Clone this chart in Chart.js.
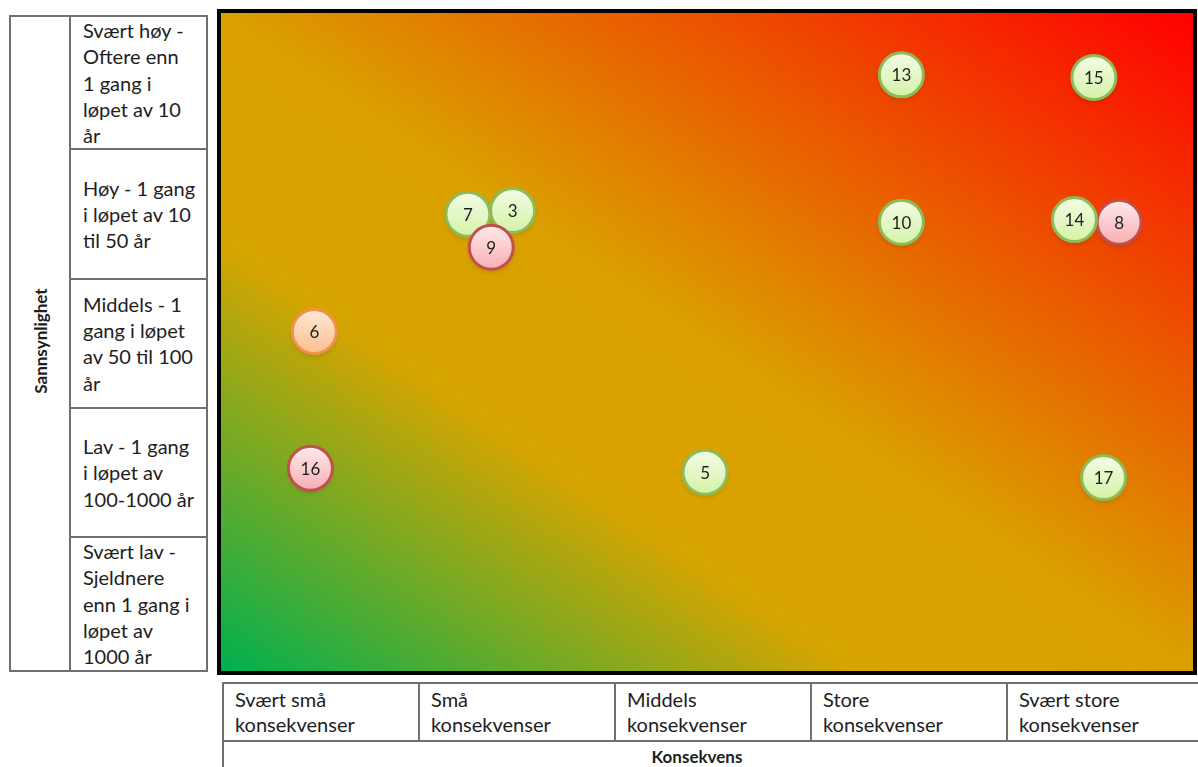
<!DOCTYPE html>
<html lang="no">
<head>
<meta charset="utf-8">
<title>Risikomatrise</title>
<script src="https://cdn.jsdelivr.net/npm/chart.js@4.4.1/dist/chart.umd.min.js"></script>
<style>
  html, body { margin: 0; padding: 0; background: #fff; }
  body { width: 1198px; height: 767px; overflow: hidden; position: relative;
         font-family: Lato, "Open Sans", sans-serif; color: #1e1e1e; }
  #plot { position: absolute; left: 217px; top: 9px; }
  table { border-collapse: collapse; position: absolute; table-layout: fixed; }
  td { border: 2px solid #707070; padding: 0; }
  #likTable { left: 9px; top: 15px; }
  #likTable td.lab { font-size: 20px; line-height: 26.3px; padding-left: 12px; vertical-align: middle; white-space: nowrap; }
  #conTable { left: 222px; top: 682px; width: 1080px; }
  #conTable td.lab { font-size: 20px; line-height: 25px; padding: 3px 0 0 11px; vertical-align: top; white-space: nowrap; height: 53px; }
  #conTable td.foot { height: 60px; }
  .axisTitle { position: absolute; font-weight: bold; font-size: 17px; white-space: nowrap; }
  #yTitle { left: 40px; top: 341px; transform: translate(-50%, -50%) rotate(-90deg); }
  #xTitle { left: 697px; top: 756px; transform: translate(-50%, -50%); }
</style>
</head>
<body>
<table id="likTable"></table>
<table id="conTable"></table>
<div class="axisTitle" id="yTitle"></div>
<div class="axisTitle" id="xTitle"></div>
<canvas id="plot" width="980" height="666"></canvas>
<script>
// Axis titles
const yTitle = 'Sannsynlighet';
const xTitle = 'Konsekvens';

// Likelihood classes, from 1 (lowest) to 5 (highest), one line per entry
const likelihoodLabels = [
  ['Svært lav -', 'Sjeldnere', 'enn 1 gang i', 'løpet av', '1000 år'],
  ['Lav - 1 gang', 'i løpet av', '100-1000 år'],
  ['Middels - 1', 'gang i løpet', 'av 50 til 100', 'år'],
  ['Høy - 1 gang', 'i løpet av 10', 'til 50 år'],
  ['Svært høy -', 'Oftere enn', '1 gang i', 'løpet av 10', 'år']
];

// Consequence classes, from 1 (smallest) to 5 (largest)
const consequenceLabels = [
  ['Svært små', 'konsekvenser'],
  ['Små', 'konsekvenser'],
  ['Middels', 'konsekvenser'],
  ['Store', 'konsekvenser'],
  ['Svært store', 'konsekvenser']
];

// Risk events: id, consequence class, likelihood class, assessment
const eventIds    = [3, 7, 9, 13, 15, 10, 8, 14, 6, 16, 5, 17];
const consequence = [2.00, 1.77, 1.89, 4.00, 4.99, 4.00, 5.12, 4.89, 0.98, 0.96, 2.99, 5.04];
const likelihood  = [4.00, 3.97, 3.72, 5.03, 5.01, 3.91, 3.91, 3.93, 3.08, 2.04, 2.01, 1.97];
const assessment  = ['green', 'green', 'red', 'green', 'green', 'green', 'red', 'green', 'orange', 'red', 'green', 'green'];

// ---- label tables ----
const likTable = document.getElementById('likTable');
for (let r = likelihoodLabels.length - 1; r >= 0; r--) {
  const tr = document.createElement('tr');
  if (r === likelihoodLabels.length - 1) {
    const side = document.createElement('td');
    side.rowSpan = likelihoodLabels.length;
    side.style.width = '58px';
    tr.appendChild(side);
  }
  const td = document.createElement('td');
  td.className = 'lab';
  td.style.width = '123px';
  td.style.height = '127.2px';
  td.innerHTML = likelihoodLabels[r].join('<br>');
  tr.appendChild(td);
  likTable.appendChild(tr);
}

// consequence table: columns line up with the plot's five classes,
// the last one runs past the page edge
const conTable = document.getElementById('conTable');
const cols = document.createElement('colgroup');
consequenceLabels.forEach((_, i) => {
  const col = document.createElement('col');
  col.style.width = (i === consequenceLabels.length - 1 ? 296 : 196) + 'px';
  cols.appendChild(col);
});
conTable.appendChild(cols);
const headRow = document.createElement('tr');
consequenceLabels.forEach(lines => {
  const td = document.createElement('td');
  td.className = 'lab';
  td.innerHTML = lines.join('<br>');
  headRow.appendChild(td);
});
conTable.appendChild(headRow);
const footRow = document.createElement('tr');
const foot = document.createElement('td');
foot.className = 'foot';
foot.colSpan = consequenceLabels.length;
footRow.appendChild(foot);
conTable.appendChild(footRow);

document.getElementById('yTitle').textContent = yTitle;
document.getElementById('xTitle').textContent = xTitle;

// ---- bubble styling ----
const palette = {
  green:  { top: '#f3fde6', bottom: '#d5f2a6', border: '#8cbb57' },
  red:    { top: '#ffeaea', bottom: '#f7aeb3', border: '#c0504d' },
  orange: { top: '#fee9d6', bottom: '#fbbf8e', border: '#f3914a' }
};
const R = 22;

// diagonal green -> amber -> red field behind the points
const riskField = {
  id: 'riskField',
  beforeDraw(chart) {
    const { ctx, chartArea: a } = chart;
    ctx.save();
    ctx.translate(a.left, a.top);
    ctx.scale(a.right - a.left, a.bottom - a.top);
    const g = ctx.createLinearGradient(0, 1, 1, 0);
    g.addColorStop(0.00, '#00b050');
    g.addColorStop(0.33, '#d8a400');
    g.addColorStop(0.50, '#daa000');
    g.addColorStop(1.00, '#ff0000');
    ctx.fillStyle = g;
    ctx.fillRect(0, 0, 1, 1);
    ctx.restore();
  },
  afterDraw(chart) {
    const { ctx, chartArea: a } = chart;
    ctx.save();
    ctx.strokeStyle = '#000';
    ctx.lineWidth = 4;
    ctx.strokeRect(a.left - 2, a.top - 2, a.right - a.left + 4, a.bottom - a.top + 4);
    ctx.restore();
  }
};

// soft drop shadow under each bubble, and the event number on top
const bubbleDecor = {
  id: 'bubbleDecor',
  beforeDatasetsDraw(chart) {
    const { ctx } = chart;
    const meta = chart.getDatasetMeta(0);
    ctx.save();
    ctx.shadowColor = 'rgba(0,0,0,0.40)';
    ctx.shadowBlur = 5;
    ctx.shadowOffsetY = 3;
    ctx.fillStyle = 'rgba(0,0,0,0.35)';
    meta.data.forEach(el => {
      ctx.beginPath();
      ctx.arc(el.x, el.y, R, 0, Math.PI * 2);
      ctx.fill();
    });
    ctx.restore();
  },
  afterDatasetsDraw(chart) {
    const { ctx } = chart;
    const meta = chart.getDatasetMeta(0);
    ctx.save();
    ctx.font = '17px Lato, "Open Sans", sans-serif';
    ctx.fillStyle = '#1e1e1e';
    ctx.textAlign = 'center';
    ctx.textBaseline = 'middle';
    meta.data.forEach((el, i) => {
      ctx.fillText(String(eventIds[i]), el.x, el.y + 1);
    });
    ctx.restore();
  }
};

new Chart(document.getElementById('plot'), {
  type: 'scatter',
  data: {
    datasets: [{
      data: eventIds.map((id, i) => ({ x: consequence[i], y: likelihood[i] })),
      pointRadius: R,
      pointHoverRadius: R,
      pointBorderWidth: 3,
      pointHoverBorderWidth: 3,
      clip: false,
      pointBorderColor: c => c.dataIndex === undefined ? '#888' : palette[assessment[c.dataIndex]].border,
      pointBackgroundColor: c => {
        if (c.dataIndex === undefined) return '#ddd';
        const p = palette[assessment[c.dataIndex]];
        const chart = c.chart;
        if (!chart.chartArea || !chart.scales.y) return p.bottom;
        const py = chart.scales.y.getPixelForValue(likelihood[c.dataIndex]);
        const g = chart.ctx.createLinearGradient(0, py - R, 0, py + R);
        g.addColorStop(0, p.top);
        g.addColorStop(1, p.bottom);
        return g;
      }
    }]
  },
  options: {
    responsive: false,
    animation: false,
    devicePixelRatio: 1,
    layout: { padding: 4, autoPadding: false },
    events: [],
    plugins: { legend: { display: false }, tooltip: { enabled: false } },
    scales: {
      x: { type: 'linear', min: 0.5, max: 5.5, display: false },
      y: { type: 'linear', min: 0.5, max: 5.5, display: false }
    }
  },
  plugins: [riskField, bubbleDecor]
});
</script>
</body>
</html>
